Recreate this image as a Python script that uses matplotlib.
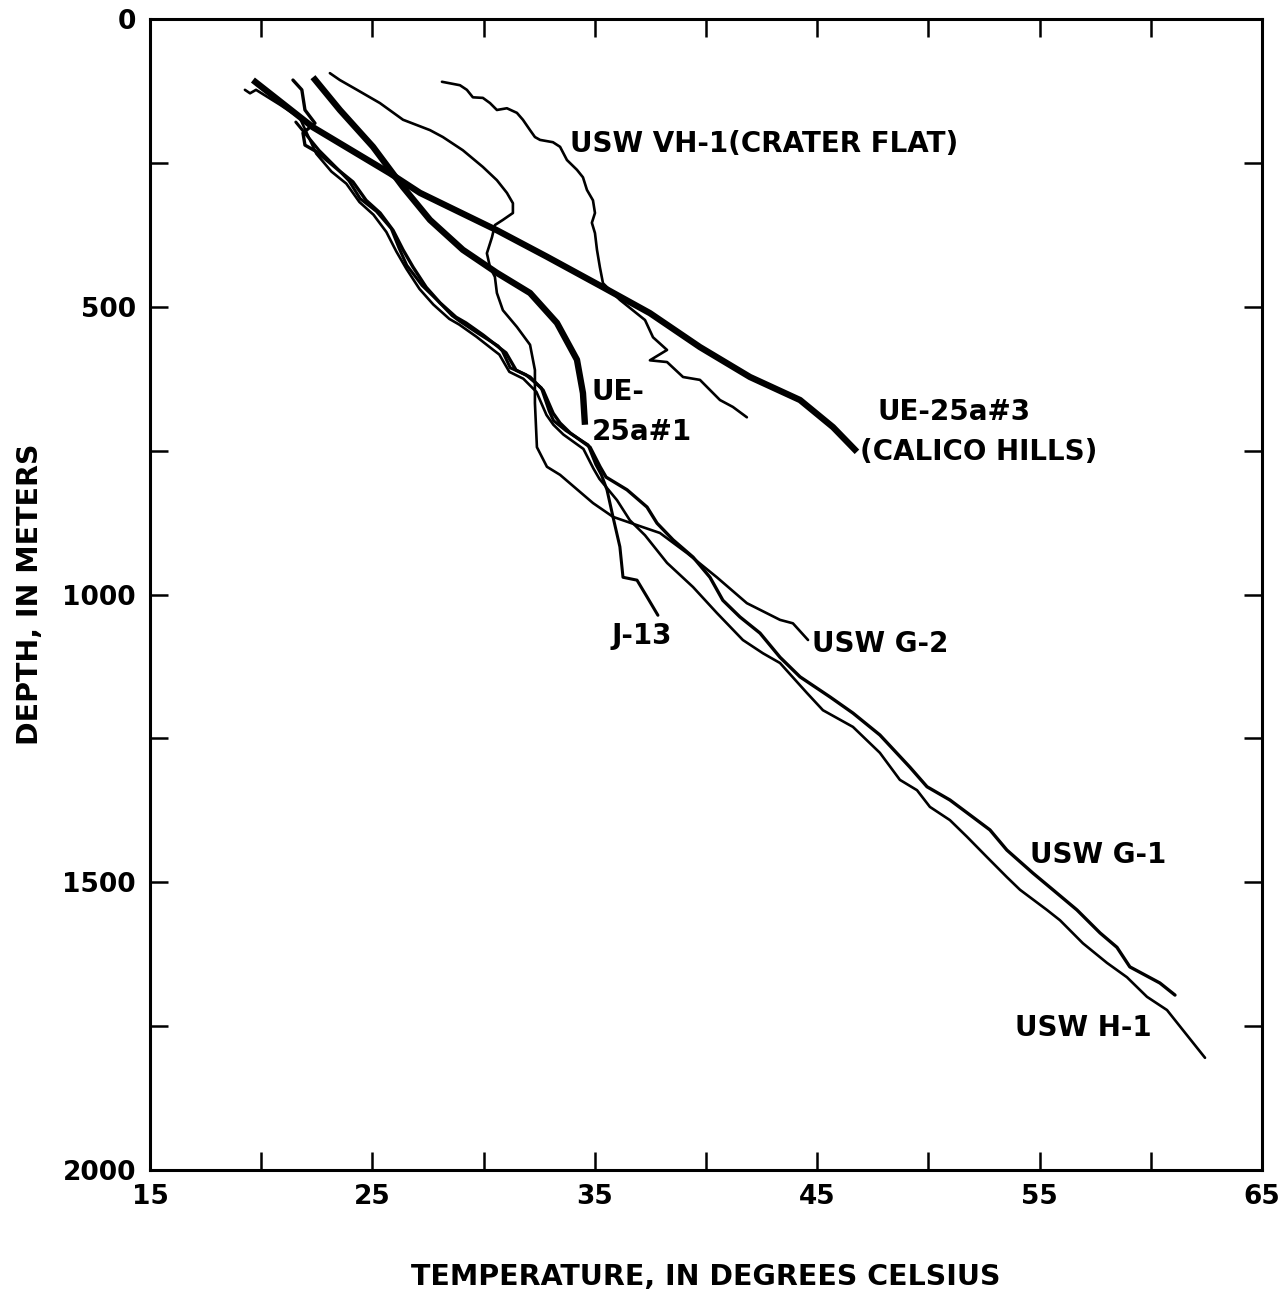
import numpy as np
import matplotlib.pyplot as plt
from matplotlib.ticker import MultipleLocator, FixedLocator

# temperature (deg C) / depth (m) profiles
vh1_t = [28.13, 28.94, 29.25, 29.52, 29.97, 30.29, 30.60, 31.05, 31.50, 31.77, 32.09, 32.31,
         32.54, 33.12, 33.44, 33.75, 34.20, 34.47, 34.65, 34.92, 35.01, 34.87, 35.01, 35.10,
         35.23, 35.37, 36.13, 37.26, 37.62, 38.25, 37.48, 38.25, 38.97, 39.73, 40.63, 41.21, 41.84]
vh1_d = [109, 115, 123, 136, 137, 146, 158, 155, 163, 175, 193, 205,
         210, 214, 222, 245, 262, 275, 297, 315, 337, 354, 372, 401,
         431, 459, 488, 523, 553, 575, 593, 596, 622, 627, 662, 674, 692]

ue3_t = [19.63, 22.33, 25.79, 27.14, 30.60, 32.85, 35.37, 37.48, 39.73, 41.98, 44.23, 45.71, 46.79]
ue3_d = [106, 188, 268, 302, 367, 413, 466, 511, 570, 622, 662, 709, 752]

ue1_t = [22.33, 23.54, 25.03, 26.38, 27.59, 29.07, 30.60, 32.09, 33.30, 34.20, 34.47, 34.56]
ue1_d = [101, 158, 222, 292, 349, 401, 441, 476, 528, 592, 650, 705]

g2_t = [23.09, 23.54, 24.31, 25.34, 26.38, 27.59, 28.17, 29.07, 29.97, 30.60, 31.05, 31.32,
        31.32, 30.87, 30.51, 30.38, 30.15, 30.29, 30.51, 30.60, 30.87, 31.50, 32.09, 32.31,
        32.31, 32.40, 32.85, 33.44, 34.92, 35.82, 37.17, 37.93, 39.15, 40.49, 41.84, 43.33,
        43.91, 44.59]
g2_d = [94, 106, 123, 146, 175, 193, 205, 228, 257, 280, 302, 320,
        337, 349, 358, 379, 407, 431, 448, 476, 506, 535, 566, 610,
        667, 744, 778, 792, 841, 865, 883, 893, 928, 970, 1015, 1044,
        1050, 1079]

j13_t = [21.56, 22.60, 23.40, 23.95, 24.45, 25.18, 25.85, 26.20, 26.55, 27.24, 27.96, 28.58,
         28.93, 29.75, 30.65, 30.85, 31.20, 31.90, 32.60, 32.95, 33.15, 33.70, 34.70, 35.05,
         35.30, 35.55, 35.82, 36.13, 36.27, 36.90, 37.35, 37.84]
j13_d = [179, 228, 259, 281, 312, 334, 364, 398, 428, 463, 490, 515,
         525, 546, 568, 577, 606, 618, 641, 681, 698, 715, 740, 774,
         792, 818, 865, 917, 970, 975, 1004, 1036]

g1_t = [21.43, 21.83, 21.97, 22.42, 21.88, 21.97, 22.51, 23.46, 24.13, 24.72, 25.35, 25.93,
        26.38, 26.83, 27.42, 28.04, 28.76, 29.21, 29.98, 30.74, 31.01, 31.46, 32.09, 32.68,
        33.13, 33.44, 33.89, 34.79, 35.24, 35.51, 36.45, 37.35, 37.80, 38.52, 39.42, 40.18,
        40.76, 41.53, 42.43, 43.33, 44.23, 45.58, 46.61, 47.82, 49.17, 49.94, 50.97, 52.01,
        52.77, 53.53, 54.70, 55.60, 56.68, 57.72, 58.48, 59.06, 60.41, 61.09]
g1_d = [106, 123, 158, 181, 198, 219, 231, 262, 283, 315, 337, 367,
        401, 431, 466, 493, 518, 528, 549, 572, 580, 610, 622, 645,
        685, 702, 719, 744, 778, 796, 818, 848, 876, 905, 935, 970,
        1010, 1039, 1067, 1109, 1143, 1178, 1206, 1244, 1300, 1334, 1357, 1387,
        1409, 1444, 1484, 1513, 1548, 1588, 1613, 1647, 1675, 1696]

h1_t = [19.27, 19.50, 19.77, 20.85, 21.74, 22.48, 23.16, 23.83, 24.42, 25.05, 25.63, 26.08,
        26.53, 27.12, 27.74, 28.46, 28.91, 29.68, 30.44, 30.71, 31.16, 31.79, 32.38, 32.83,
        33.14, 33.59, 34.49, 34.94, 35.21, 36.00, 36.58, 37.26, 38.25, 39.42, 40.49, 41.66,
        42.56, 43.33, 44.54, 45.26, 46.61, 47.82, 48.72, 49.49, 50.07, 50.97, 51.74, 52.63,
        53.53, 54.12, 55.33, 55.92, 56.95, 58.03, 58.93, 59.83, 60.73, 61.45, 62.44]
h1_d = [123, 129, 123, 149, 172, 234, 265, 286, 318, 340, 370, 404,
        434, 469, 496, 521, 531, 552, 575, 583, 613, 625, 648, 688,
        705, 722, 747, 781, 799, 836, 871, 897, 945, 987, 1032, 1079,
        1102, 1119, 1171, 1201, 1230, 1275, 1322, 1340, 1369, 1392, 1421, 1456,
        1491, 1513, 1548, 1566, 1606, 1640, 1665, 1699, 1722, 1757, 1805]

# label text and anchor (temperature, depth)
labels = ['USW VH-1(CRATER FLAT)', 'UE-', '25a#1', 'UE-25a#3', '(CALICO HILLS)',
          'J-13', 'USW G-2', 'USW G-1', 'USW H-1']
label_t = [33.88, 34.87, 34.87, 47.73, 46.92, 35.77, 44.77, 54.57, 53.89]
label_d = [217, 648, 718, 683, 752, 1072, 1086, 1453, 1753]

xticks_major = [15, 25, 35, 45, 55, 65]
xticks_minor = [20, 30, 40, 50, 60]

fig = plt.figure(figsize=(12.86, 12.96), dpi=100)
ax = fig.add_axes([0.1166, 0.0972, 0.8647, 0.8881])

rnd = dict(color='black', solid_capstyle='round', solid_joinstyle='round')
ax.plot(h1_t, h1_d, lw=1.9, **rnd)
ax.plot(g1_t, g1_d, lw=2.4, **rnd)
ax.plot(j13_t, j13_d, lw=2.2, **rnd)
ax.plot(g2_t, g2_d, lw=1.9, **rnd)
ax.plot(vh1_t, vh1_d, lw=1.9, **rnd)
ax.plot(ue1_t, ue1_d, color='black', lw=4.6, solid_capstyle='butt')
ax.plot(ue3_t, ue3_d, color='black', lw=4.6, solid_capstyle='butt')

for s, t, d in zip(labels, label_t, label_d):
    ax.text(t, d, s, fontsize=20, fontweight='bold', ha='left', va='center')

ax.set_xlim(15, 65)
ax.set_ylim(2000, 0)
ax.xaxis.set_major_locator(FixedLocator(xticks_major))
ax.xaxis.set_minor_locator(FixedLocator(xticks_minor))
ax.yaxis.set_major_locator(MultipleLocator(500))
ax.yaxis.set_minor_locator(MultipleLocator(250))
ax.tick_params(which='both', direction='in', top=True, right=True, length=13, width=1.8)
ax.tick_params(which='major', labelsize=19, pad=10)
for lab in ax.get_xticklabels() + ax.get_yticklabels():
    lab.set_fontweight('bold')
for sp in ax.spines.values():
    sp.set_linewidth(2.2)

ax.set_xlabel('TEMPERATURE, IN DEGREES CELSIUS', fontsize=20.5, fontweight='bold', labelpad=38)
ax.set_ylabel('DEPTH, IN METERS', fontsize=20.5, fontweight='bold', labelpad=13)

fig.savefig('out.png', dpi=100)
